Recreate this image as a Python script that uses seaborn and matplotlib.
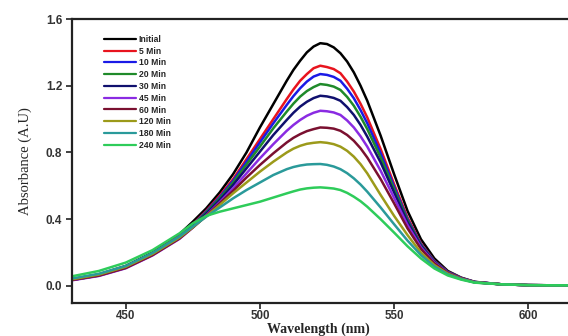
import matplotlib
matplotlib.use("Agg")
import matplotlib.pyplot as plt
import seaborn as sns
import pandas as pd

wavelength = [430, 440, 450, 460, 470, 475, 480, 485, 490, 495, 500, 505, 510,
              512.5, 515, 517.5, 520, 522.5, 525, 527.5, 530, 532.5, 535, 537.5, 540,
              545, 550, 555, 560, 565, 570, 575, 580, 590, 600, 610, 620]

series_names = ["Initial", "5 Min", "10 Min", "20 Min", "30 Min", "45 Min", "60 Min",
                "120 Min", "180 Min", "240 Min"]

initial = [0.040, 0.070, 0.120, 0.200, 0.310, 0.385, 0.465, 0.560, 0.670, 0.800, 0.950, 1.090, 1.230,
           1.295, 1.350, 1.400, 1.435, 1.455, 1.450, 1.430, 1.395, 1.345, 1.280, 1.200, 1.110,
           0.900, 0.670, 0.450, 0.280, 0.165, 0.090, 0.050, 0.025, 0.010, 0.005, 0.004, 0.004]
min5 = [0.038, 0.066, 0.115, 0.195, 0.300, 0.370, 0.450, 0.540, 0.640, 0.760, 0.880, 1.000, 1.120,
        1.178, 1.230, 1.270, 1.305, 1.320, 1.312, 1.300, 1.275, 1.225, 1.165, 1.092, 1.010,
        0.820, 0.610, 0.410, 0.255, 0.150, 0.085, 0.048, 0.024, 0.010, 0.005, 0.004, 0.004]
min10 = [0.037, 0.065, 0.113, 0.192, 0.296, 0.366, 0.445, 0.532, 0.630, 0.745, 0.860, 0.975, 1.085,
         1.138, 1.185, 1.225, 1.255, 1.270, 1.265, 1.253, 1.230, 1.182, 1.125, 1.054, 0.975,
         0.795, 0.595, 0.400, 0.250, 0.148, 0.084, 0.047, 0.024, 0.010, 0.005, 0.004, 0.004]
min20 = [0.037, 0.064, 0.112, 0.190, 0.292, 0.362, 0.440, 0.525, 0.620, 0.728, 0.835, 0.945, 1.045,
         1.093, 1.135, 1.168, 1.192, 1.210, 1.205, 1.195, 1.175, 1.133, 1.080, 1.014, 0.940,
         0.770, 0.580, 0.392, 0.245, 0.145, 0.082, 0.046, 0.023, 0.010, 0.005, 0.004, 0.004]
min30 = [0.036, 0.063, 0.110, 0.188, 0.288, 0.358, 0.433, 0.515, 0.605, 0.705, 0.805, 0.905, 0.995,
         1.038, 1.075, 1.104, 1.126, 1.140, 1.136, 1.127, 1.110, 1.072, 1.025, 0.965, 0.895,
         0.740, 0.560, 0.382, 0.240, 0.143, 0.081, 0.046, 0.023, 0.010, 0.005, 0.004, 0.004]
min45 = [0.034, 0.060, 0.106, 0.183, 0.282, 0.350, 0.423, 0.502, 0.585, 0.675, 0.765, 0.850, 0.930,
         0.965, 0.995, 1.020, 1.038, 1.050, 1.047, 1.040, 1.025, 0.992, 0.950, 0.897, 0.835,
         0.690, 0.528, 0.365, 0.232, 0.140, 0.080, 0.045, 0.023, 0.010, 0.005, 0.004, 0.004]
min60 = [0.036, 0.062, 0.108, 0.185, 0.284, 0.350, 0.420, 0.495, 0.570, 0.650, 0.725, 0.795, 0.860,
         0.888, 0.910, 0.928, 0.940, 0.950, 0.948, 0.943, 0.930, 0.905, 0.870, 0.825, 0.770,
         0.640, 0.495, 0.345, 0.222, 0.135, 0.078, 0.044, 0.022, 0.010, 0.005, 0.004, 0.004]
min120 = [0.040, 0.068, 0.115, 0.192, 0.290, 0.352, 0.418, 0.485, 0.555, 0.620, 0.685, 0.745, 0.800,
          0.823, 0.840, 0.852, 0.858, 0.862, 0.858, 0.850, 0.835, 0.810, 0.775, 0.730, 0.675,
          0.545, 0.420, 0.305, 0.200, 0.125, 0.074, 0.043, 0.022, 0.010, 0.005, 0.004, 0.004]
min180 = [0.045, 0.073, 0.120, 0.198, 0.296, 0.356, 0.415, 0.470, 0.525, 0.575, 0.620, 0.665, 0.700,
          0.713, 0.722, 0.728, 0.730, 0.731, 0.726, 0.716, 0.700, 0.676, 0.645, 0.608, 0.565,
          0.470, 0.370, 0.272, 0.185, 0.116, 0.069, 0.041, 0.021, 0.010, 0.005, 0.004, 0.004]
min240 = [0.058, 0.090, 0.140, 0.215, 0.315, 0.375, 0.420, 0.445, 0.465, 0.485, 0.505, 0.530, 0.555,
          0.567, 0.578, 0.585, 0.589, 0.591, 0.588, 0.584, 0.575, 0.558, 0.535, 0.508, 0.475,
          0.400, 0.320, 0.238, 0.165, 0.105, 0.063, 0.038, 0.020, 0.010, 0.005, 0.004, 0.004]

all_series = [initial, min5, min10, min20, min30, min45, min60, min120, min180, min240]

colors = ["#000000", "#e8141e", "#1a1ae6", "#1f8a2a", "#10106e", "#8a2be2",
          "#7a1030", "#9c9a1a", "#2a9a9a", "#2ecc5a"]

x_ticks = [450, 500, 550, 600]
y_ticks = [0.0, 0.4, 0.8, 1.2, 1.6]

rows = []
for name, vals in zip(series_names, all_series):
    for w, a in zip(wavelength, vals):
        rows.append({"Wavelength": w, "Absorbance": a, "Series": name})
df = pd.DataFrame(rows)

sns.set_style("ticks")
plt.rcParams["font.family"] = ["Liberation Sans", "DejaVu Sans"]

fig = plt.figure(figsize=(5.68, 3.36), dpi=100)
ax = fig.add_axes([72 / 568, 33 / 336, 510 / 568, 284 / 336])

sns.lineplot(data=df, x="Wavelength", y="Absorbance", hue="Series",
             hue_order=series_names, palette=colors, sort=False,
             linewidth=1.8, ax=ax, legend=True)

ax.set_xlim(430, 620)
ax.set_ylim(-0.102, 1.6)
ax.set_xticks(x_ticks)
ax.set_yticks(y_ticks)
ax.set_yticklabels([f"{v:.1f}" for v in y_ticks], fontweight="bold", fontsize=8.5, color="#333333")
ax.set_xticklabels([str(v) for v in x_ticks], fontweight="bold", fontsize=8.3, color="#333333")
ax.tick_params(axis="both", direction="out", length=4.5, width=1.3, color="#333333", pad=2.5)
ax.tick_params(axis="x", pad=1.2, length=4)

for side in ["left", "bottom", "top"]:
    ax.spines[side].set_linewidth(1.6)
    ax.spines[side].set_color("#222222")
ax.spines["right"].set_visible(False)

ax.set_xlabel("Wavelength (nm)", fontfamily="Liberation Serif", fontweight="bold",
              fontsize=10)
ax.xaxis.set_label_coords((318 - 72) / 510, -0.07)
ax.set_ylabel("Absorbance (A.U)", fontfamily="Liberation Serif", fontsize=10.5, labelpad=10)

leg = ax.legend(loc="upper left", bbox_to_anchor=(0.05, 0.965), frameon=False,
                prop={"family": "Liberation Sans", "weight": "bold", "size": 6.2},
                handlelength=3.8, handletextpad=0.3, labelspacing=0.32, borderpad=0.2)
for line in leg.get_lines():
    line.set_linewidth(1.6)

fig.savefig("out.png", dpi=100)
